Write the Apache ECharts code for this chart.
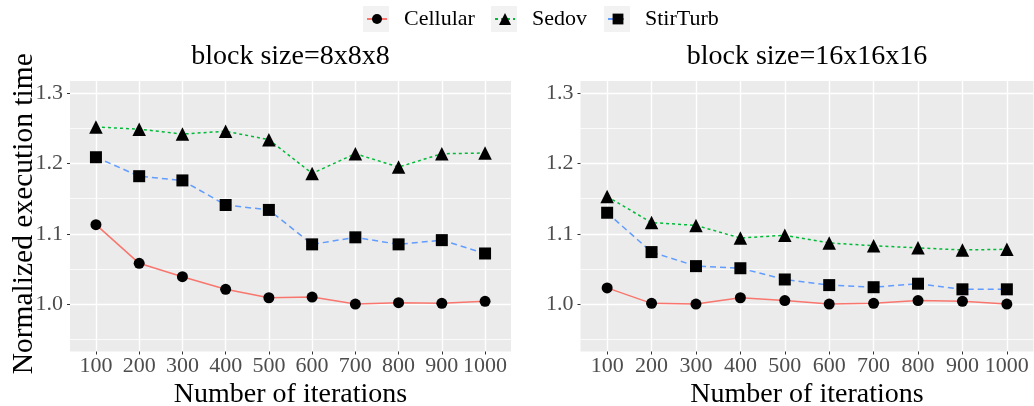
<!DOCTYPE html>
<html>
<head>
<meta charset="utf-8">
<script src="https://cdn.jsdelivr.net/npm/echarts@6/dist/echarts.min.js"></script>
<style>
  html, body { margin: 0; padding: 0; background: #ffffff; }
  #chart { width: 1034px; height: 406px; }
</style>
</head>
<body>
<div id="chart"></div>
<script>
// Iteration counts on the x axis
const iterations = [100, 200, 300, 400, 500, 600, 700, 800, 900, 1000];
// y-axis break labels and the minor grid positions between them
const yTicks = [1.0, 1.1, 1.2, 1.3];
const yMinorTicks = [0.95, 1.05, 1.15, 1.25];

const panelTitles = ['block size=8x8x8', 'block size=16x16x16'];
const seriesNames = ['Cellular', 'Sedov', 'StirTurb'];

// Normalized execution time, block size 8x8x8
const cellular8 = [1.113, 1.058, 1.039, 1.021, 1.009, 1.010, 1.000, 1.002, 1.001, 1.004];
const sedov8    = [1.252, 1.249, 1.242, 1.246, 1.234, 1.186, 1.214, 1.195, 1.214, 1.215];
const stirTurb8 = [1.209, 1.182, 1.176, 1.141, 1.134, 1.085, 1.095, 1.085, 1.091, 1.072];

// Normalized execution time, block size 16x16x16
const cellular16 = [1.023, 1.001, 1.000, 1.009, 1.005, 1.000, 1.001, 1.005, 1.004, 1.000];
const sedov16    = [1.153, 1.116, 1.112, 1.094, 1.098, 1.087, 1.083, 1.080, 1.077, 1.078];
const stirTurb16 = [1.130, 1.074, 1.054, 1.051, 1.035, 1.027, 1.024, 1.029, 1.021, 1.021];

const FONT = 'Liberation Serif';
const panelData = [
  [cellular8, sedov8, stirTurb8],
  [cellular16, sedov16, stirTurb16]
];

const seriesStyle = [
  { color: '#F8766D', type: 'solid',  symbol: 'circle',   size: 11, legendH: 12.5 },
  { color: '#00BA38', type: [3, 3],   symbol: 'triangle', size: 13.5, legendH: 15 },
  { color: '#619CFF', type: [6, 4],   symbol: 'rect',     size: 12, legendH: 13.5 }
];

const grids = [
  { left: 70,    top: 81, width: 441, height: 270.5 },
  { left: 580.5, top: 81, width: 453, height: 270.5 }
];

const xAxes = grids.map((g, i) => ({
  type: 'value',
  gridIndex: i,
  min: 40,
  max: 1060,
  axisLine: { show: false },
  axisTick: { show: true, length: 3, lineStyle: { color: '#333333', width: 1 }, customValues: iterations },
  axisLabel: {
    customValues: iterations, color: '#4D4D4D', fontSize: 22, fontFamily: FONT, margin: 4,
    formatter: v => String(v)
  },
  splitLine: { show: true, lineStyle: { color: '#ffffff', width: 1.4 } },
  name: 'Number of iterations',
  nameLocation: 'middle',
  nameGap: 29,
  nameMoveOverlap: false,
  nameTextStyle: { color: '#000000', fontSize: 28, fontFamily: FONT }
}));

const yMajor = grids.map((g, i) => ({
  type: 'value',
  gridIndex: i,
  min: 0.9325,
  max: 1.3175,
  axisLine: { show: false },
  axisTick: { show: true, length: 3, lineStyle: { color: '#333333', width: 1 }, customValues: yTicks },
  axisLabel: {
    customValues: yTicks, color: '#4D4D4D', fontSize: 22, fontFamily: FONT, margin: 7,
    formatter: v => Number(v).toFixed(1)
  },
  splitLine: { show: true, lineStyle: { color: '#ffffff', width: 1.4 } },
  name: i === 0 ? 'Normalized execution time' : '',
  nameLocation: 'middle',
  nameGap: 31,
  nameMoveOverlap: false,
  nameRotate: 90,
  nameTextStyle: { color: '#000000', fontSize: 29.5, fontFamily: FONT, padding: [0, 0, 0, 5] }
}));

// Thin minor grid lines halfway between the y breaks
const yMinor = grids.map((g, i) => ({
  type: 'value',
  gridIndex: i,
  min: 0.9325,
  max: 1.3175,
  axisLine: { show: false },
  axisTick: { show: false, customValues: yMinorTicks },
  axisLabel: { show: false, customValues: yMinorTicks },
  splitLine: { show: true, lineStyle: { color: '#ffffff', width: 0.8 } }
}));

const series = [];
panelData.forEach((sets, p) => {
  sets.forEach((vals, s) => {
    const st = seriesStyle[s];
    series.push({
      name: seriesNames[s],
      type: 'line',
      xAxisIndex: p,
      yAxisIndex: p,
      data: iterations.map((x, k) => [x, vals[k]]),
      symbol: st.symbol,
      symbolSize: st.size,
      itemStyle: { color: '#000000', borderWidth: 0 },
      lineStyle: { color: st.color, type: st.type, width: 1.5 },
      emphasis: { disabled: true },
      z: 3
    });
  });
});

const legendLefts = [366, 494, 607];
const legends = seriesNames.map((n, i) => ({
  data: [n],
  left: legendLefts[i],
  top: 6,
  padding: 0,
  itemWidth: 20,
  itemHeight: seriesStyle[i].legendH,
  selectedMode: false,
  textStyle: { color: '#000000', fontSize: 22, fontFamily: FONT, lineHeight: 26, padding: [0, 0, 0, 12] }
}));

// Grey key backgrounds behind the legend symbols
const keyBoxes = legendLefts.map(x => ({
  type: 'rect',
  shape: { x: x - 3, y: 6, width: 26, height: 26 },
  style: { fill: '#F2F2F2' },
  z: 0
}));

const titleTexts = panelTitles.map((t, i) => ({
  type: 'text',
  x: grids[i].left + grids[i].width / 2,
  y: 57,
  style: { text: t, fill: '#000000', fontSize: 28, fontFamily: FONT, align: 'center', verticalAlign: 'middle' }
}));

const chart = echarts.init(document.getElementById('chart'), null, { renderer: 'canvas' });
chart.setOption({
  animation: false,
  backgroundColor: '#ffffff',
  grid: grids.map(g => Object.assign({
    backgroundColor: '#EBEBEB', show: true, borderWidth: 0,
    containLabel: false, outerBoundsMode: 'none'
  }, g)),
  xAxis: xAxes,
  yAxis: yMajor.concat(yMinor),
  legend: legends,
  graphic: keyBoxes.concat(titleTexts),
  series: series
});
</script>
</body>
</html>
